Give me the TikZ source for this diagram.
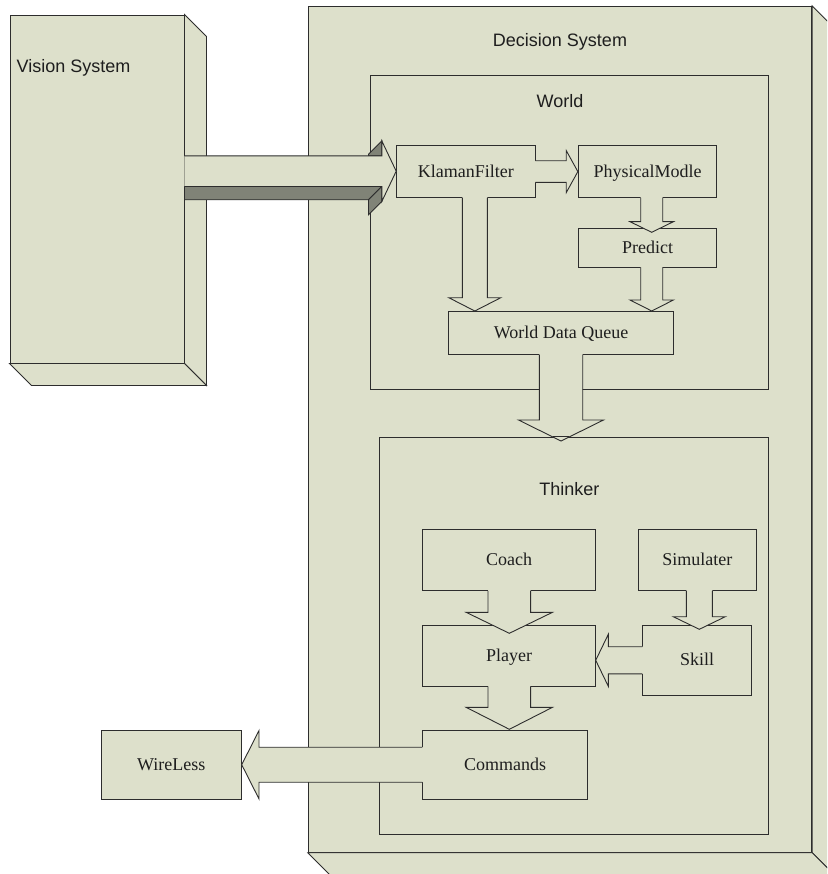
\documentclass[tikz,border=0pt]{standalone}
\usepackage{fontspec}
\setmainfont{Liberation Serif}
\setsansfont{Liberation Sans}
\usetikzlibrary{calc}
\definecolor{boxfill}{RGB}{221,224,203}
\definecolor{darkface}{RGB}{128,131,119}
\definecolor{edge}{RGB}{45,45,45}
\definecolor{txt}{RGB}{30,30,30}
\tikzset{
  ln/.style={draw=edge, line width=0.9pt, line join=miter},
  box/.style={ln, fill=boxfill, rectangle, inner sep=0pt, text=txt,
    font=\fontsize{18}{20}\selectfont, text height=11.9pt, text depth=0pt},
  lbl/.style={font=\sffamily\fontsize{18}{20}\selectfont, text=txt, inner sep=0pt, anchor=base},
}
% vertical block arrow pointing down: #1 source point, #2 tip, #3 half shaft, #4 half head, #5 head length
\newcommand\vblock[5]{%
  \fill[boxfill] ($(#1)+(-#3,-3)$) -- ($(#2)+(-#3,-#5)$) -- ($(#2)+(-#4,-#5)$) -- (#2)
     -- ($(#2)+(#4,-#5)$) -- ($(#2)+(#3,-#5)$) -- ($(#1)+(#3,-3)$) -- cycle;
  \draw[ln] ($(#1)+(-#3,0)$) -- ($(#2)+(-#3,-#5)$) -- ($(#2)+(-#4,-#5)$) -- (#2)
     -- ($(#2)+(#4,-#5)$) -- ($(#2)+(#3,-#5)$) -- ($(#1)+(#3,0)$);
}
% horizontal block arrow: #1 source, #2 tip, #3 half shaft, #4 half head, #5 head length, #6 direction (1 right, -1 left)
\newcommand\hblock[6]{%
  \fill[boxfill] ($(#1)+({-3*(#6)},-#3)$) -- ($(#2)+({-(#6)*(#5)},-#3)$) -- ($(#2)+({-(#6)*(#5)},-#4)$) -- (#2)
     -- ($(#2)+({-(#6)*(#5)},#4)$) -- ($(#2)+({-(#6)*(#5)},#3)$) -- ($(#1)+({-3*(#6)},#3)$) -- cycle;
  \draw[ln] ($(#1)+(0,-#3)$) -- ($(#2)+({-(#6)*(#5)},-#3)$) -- ($(#2)+({-(#6)*(#5)},-#4)$) -- (#2)
     -- ($(#2)+({-(#6)*(#5)},#4)$) -- ($(#2)+({-(#6)*(#5)},#3)$) -- ($(#1)+(0,#3)$);
}
\begin{document}
\begin{tikzpicture}[x=1pt,y=-1pt]
\useasboundingbox (0,0) rectangle (827,874);
\clip (0,0) rectangle (827,874);

% Vision System 3D box
\node[box, minimum width=174pt, minimum height=348pt] (vis) at (97,189) {};
\filldraw[ln, fill=boxfill] (vis.north east) -- ++(22,22) -- ($(vis.south east)+(22,22)$) -- (vis.south east) -- cycle;
\filldraw[ln, fill=boxfill] (vis.south west) -- ++(22,22) -- ($(vis.south east)+(22,22)$) -- (vis.south east) -- cycle;

% Decision System 3D box
\node[box, minimum width=503.4pt, minimum height=846pt] (dec) at (560,429.3) {};
\filldraw[ln, fill=boxfill] (dec.north east) -- ++(22,22) -- ($(dec.south east)+(22,22)$) -- (dec.south east) -- cycle;
\filldraw[ln, fill=boxfill] (dec.south west) -- ++(22,22) -- ($(dec.south east)+(22,22)$) -- (dec.south east) -- cycle;

% World
\node[box, minimum width=398.4pt, minimum height=314pt] (world) at (569.5,232.3) {};
\node[box, minimum width=138.3pt, minimum height=52.3pt] (KF) at (465.8,171.2) {KlamanFilter};
\node[box, minimum width=138.4pt, minimum height=52.3pt] (PM) at (647.5,171.2) {PhysicalModle};
\node[box, minimum width=138.4pt, minimum height=38.7pt] (PR) at (647.5,247.7) {Predict};
\node[box, minimum width=224.6pt, minimum height=43.3pt] (WDQ) at (561,332.7) {World Data Queue};

\coordinate (tKP) at ($(PM.west)+(0,0.4)$);
\hblock{KF.east |- tKP}{tKP}{10.8}{21}{11.6}{1}
\coordinate (tPP) at (651.7,232.3);
\vblock{PM.south -| tPP}{tPP}{11}{21.7}{10.6}
\coordinate (tKW) at (474.8,311);
\vblock{KF.south -| tKW}{tKW}{12.5}{26}{13.3}
\coordinate (tPW) at (651.7,311);
\vblock{PR.south -| tPW}{tPW}{11}{21.7}{11}

% Thinker
\node[box, minimum width=389.4pt, minimum height=397.4pt] (thk) at (574,636) {};
\coordinate (tWT) at (561,441);
\vblock{WDQ.south -| tWT}{tWT}{21.7}{42.5}{21}
\draw[ln] ($(thk.north -| tWT)+(-7.6,0)$) -- ($(thk.north -| tWT)+(7.6,0)$);

\node[box, minimum width=173pt, minimum height=61.3pt] (coach) at (509.2,559.7) {Coach};
\node[box, minimum width=117.3pt, minimum height=61.3pt] (sim) at (697.3,559.7) {Simulater};
\node[box, minimum width=173pt, minimum height=61pt] (player) at (509.2,655.5) {Player};
\node[box, minimum width=109pt, minimum height=70pt] (skill) at (697.2,660) {Skill};
\node[box, minimum width=164.6pt, minimum height=69pt] (cmd) at (505,764.5) {Commands};

\coordinate (tCP) at (509.3,633.3);
\vblock{coach.south -| tCP}{tCP}{21.3}{43.2}{21}
\coordinate (tSS) at (699.3,629.3);
\vblock{sim.south -| tSS}{tSS}{13}{26}{12.6}
\coordinate (tSP) at (595.7,660.3);
\hblock{skill.west |- tSP}{tSP}{13.6}{26}{12.6}{-1}
\coordinate (tPC) at (509.3,729.3);
\vblock{player.south -| tPC}{tPC}{21.3}{43.2}{22}

% WireLess
\node[box, minimum width=140.7pt, minimum height=69.3pt] (wl) at (171.3,764.7) {WireLess};
\coordinate (tCW) at ($(wl.east)+(-0.4,0)$);
\hblock{cmd.west |- tCW}{tCW}{17.5}{34.2}{17.3}{-1}

% 3D arrow Vision -> KlamanFilter
\coordinate (vt) at (KF.west);
\coordinate (vs) at (vis.east |- vt);
\filldraw[ln, fill=darkface] ($(vt)+(-14.4,-30.3)$) -- ($(vt)+(-27.7,-17)$) -- ($(vt)+(-27.7,-15.3)$) -- ($(vt)+(-14.4,-15.3)$) -- cycle;
\filldraw[ln, fill=darkface] ($(vs)+(0,15.3)$) -- ($(vt)+(-14.4,15.3)$) -- ($(vt)+(-27.7,28.6)$) -- ($(vs)+(0,28.6)$) -- cycle;
\filldraw[ln, fill=darkface] ($(vt)+(-14.4,15.3)$) -- ($(vt)+(-14.4,30.3)$) -- ($(vt)+(-27.7,43.6)$) -- ($(vt)+(-27.7,28.6)$) -- cycle;
\fill[boxfill] ($(vs)+(0,-15.3)$) -- ($(vt)+(-14.4,-15.3)$) -- ($(vt)+(-14.4,-30.3)$) -- (vt) -- ($(vt)+(-14.4,30.3)$) -- ($(vt)+(-14.4,15.3)$) -- ($(vs)+(0,15.3)$) -- cycle;
\draw[ln] ($(vs)+(0,-15.3)$) -- ($(vt)+(-14.4,-15.3)$) -- ($(vt)+(-14.4,-30.3)$) -- (vt) -- ($(vt)+(-14.4,30.3)$) -- ($(vt)+(-14.4,15.3)$) -- ($(vs)+(0,15.3)$);

% labels
\node[lbl, anchor=base west] (lvis) at (16.5,72.7) {Vision System};
\node[lbl] (ldec) at (560,46.7) {Decision System};
\node[lbl] (lworld) at (560,107.3) {World};
\node[lbl] (lthk) at (569.3,495.7) {Thinker};
\end{tikzpicture}
\end{document}
